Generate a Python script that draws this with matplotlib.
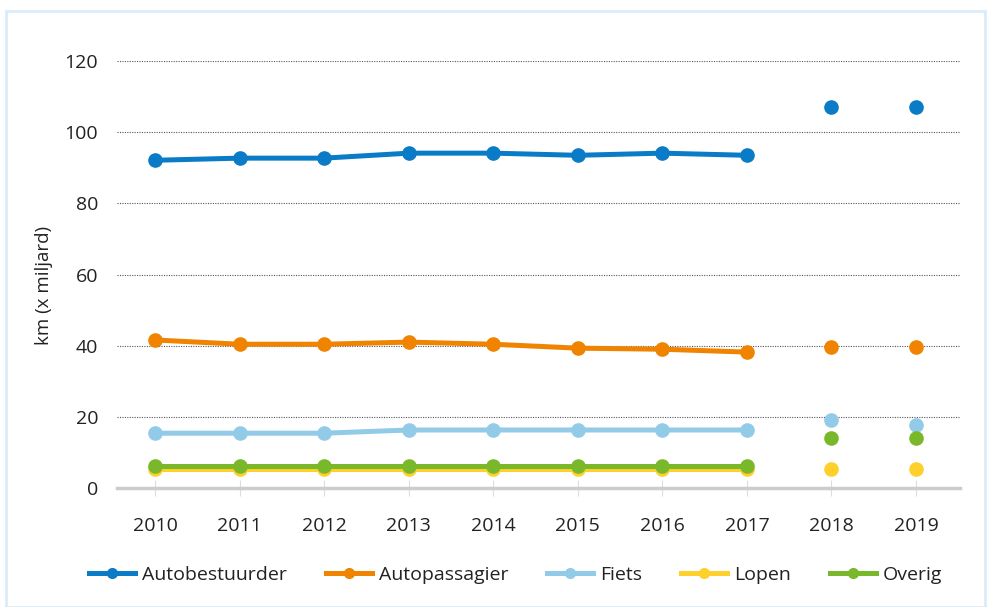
import matplotlib
matplotlib.use("Agg")
import matplotlib.pyplot as plt
from matplotlib.patches import Rectangle
from matplotlib.lines import Line2D

years = ["2010", "2011", "2012", "2013", "2014", "2015", "2016", "2017", "2018", "2019"]
series_names = ["Autobestuurder", "Autopassagier", "Fiets", "Lopen", "Overig"]
autobestuurder = [92.1, 92.7, 92.7, 94.1, 94.1, 93.5, 94.1, 93.5, 107.0, 107.0]
autopassagier = [41.6, 40.4, 40.4, 41.0, 40.4, 39.3, 39.0, 38.2, 39.6, 39.6]
fiets = [15.4, 15.4, 15.4, 16.3, 16.3, 16.3, 16.3, 16.3, 19.1, 17.7]
lopen = [5.3, 5.3, 5.3, 5.3, 5.3, 5.3, 5.3, 5.3, 5.3, 5.3]
overig = [6.2, 6.2, 6.2, 6.2, 6.2, 6.2, 6.2, 6.2, 14.0, 14.0]
yticks = [0, 20, 40, 60, 80, 100, 120]
n_line = 8  # years connected by a line (2010-2017)

colors = {"Autobestuurder": "#0a7bc6", "Autopassagier": "#f08300",
          "Fiets": "#92cbe8", "Lopen": "#fdd02b", "Overig": "#7ab82b"}
data = {"Autobestuurder": autobestuurder, "Autopassagier": autopassagier,
        "Fiets": fiets, "Lopen": lopen, "Overig": overig}

plt.rcParams['font.family'] = ['Open Sans', 'DejaVu Sans']
FS = 14
TXT = "#222222"

fig = plt.figure(figsize=(9.88, 6.07), dpi=100)
fig.patches.append(Rectangle((6/988, 0), 979/988, 1 - 11/607, transform=fig.transFigure,
                             fill=False, edgecolor="#dcebf8", linewidth=2))
ax = fig.add_axes([117/988, 1 - 488/607, (960-117)/988, (488-61)/607])

x = list(range(len(years)))
for name in series_names:
    vals = data[name]
    c = colors[name]
    ax.plot(x[:n_line], vals[:n_line], color=c, lw=3.6, marker="o", ms=9.5,
            solid_capstyle="round", zorder=3, clip_on=False)
    ax.plot(x[n_line:], vals[n_line:], color=c, lw=0, marker="o", ms=9.5,
            zorder=3, clip_on=False)

ax.set_xlim(-0.45, 9.52)
ax.set_ylim(0, 120)
ax.set_yticks(yticks)
ax.set_yticklabels([str(v) for v in yticks])
ax.set_xticks(x)
ax.set_xticklabels(years)

ax.grid(axis="y", linestyle=(0, (1, 1.2)), color="#555555", linewidth=0.8)
ax.set_axisbelow(True)
for s in ["top", "right", "left"]:
    ax.spines[s].set_visible(False)
ax.spines["bottom"].set_color("#cccccc")
ax.spines["bottom"].set_linewidth(2.5)
ax.spines["bottom"].set_zorder(1)

ax.tick_params(axis="y", length=0, pad=13.5, labelsize=FS, labelcolor=TXT)
ax.tick_params(axis="x", length=12, direction="inout", color="#dddddd", width=0.8,
               pad=15, labelsize=FS, labelcolor=TXT)

ax.set_ylabel("km (x miljard)", fontsize=13.5, color=TXT)
ax.yaxis.set_label_coords((53 - 117) / 843, (488 - 285) / 427)

handles = [Line2D([0], [0], color=colors[n], lw=3.6, marker="o", ms=7) for n in series_names]
fig.legend(handles, series_names, loc="center", bbox_to_anchor=(515.5/988, 1 - 575/607),
           ncol=5, frameon=False, fontsize=FS, handlelength=2.37, handletextpad=0.36,
           columnspacing=2.0, labelcolor=TXT)

fig.savefig("out.png", dpi=100)
